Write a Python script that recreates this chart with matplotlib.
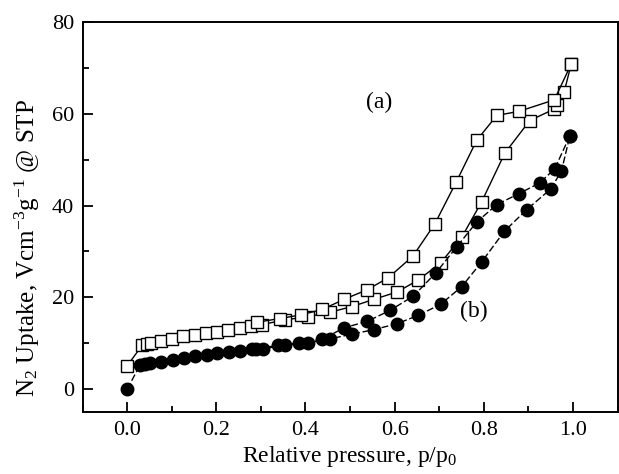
import numpy as np
from matplotlib import pyplot as plt
from matplotlib.ticker import MultipleLocator

plt.rcParams['font.family'] = ['Liberation Serif', 'DejaVu Serif']
plt.rcParams['mathtext.fontset'] = 'custom'
plt.rcParams['mathtext.rm'] = 'Liberation Serif'
plt.rcParams['mathtext.it'] = 'Liberation Serif:italic'

# sample (a): open squares
a_ads_p = [0.0, 0.034, 0.045, 0.054, 0.076, 0.101, 0.126, 0.153, 0.177, 0.202,
           0.227, 0.253, 0.277, 0.303, 0.353, 0.405, 0.456, 0.504, 0.554, 0.606,
           0.653, 0.703, 0.751, 0.795, 0.847, 0.903, 0.958, 0.964, 0.980, 0.996]
a_ads_v = [5.1, 9.6, 9.9, 10.0, 10.5, 11.0, 11.5, 11.8, 12.2, 12.5,
           12.8, 13.3, 13.8, 14.1, 15.1, 15.8, 16.8, 18.0, 19.6, 21.2,
           23.8, 27.5, 33.2, 40.8, 51.4, 58.5, 61.0, 61.9, 64.7, 70.8]
a_des_p = [0.996, 0.958, 0.879, 0.829, 0.784, 0.738, 0.690, 0.641, 0.586, 0.539,
           0.487, 0.438, 0.390, 0.342, 0.292]
a_des_v = [70.8, 63.0, 60.5, 59.6, 54.2, 45.1, 36.0, 29.0, 24.3, 21.7,
           19.6, 17.4, 16.2, 15.4, 14.6]

# sample (b): filled circles
b_ads_p = [0.0, 0.029, 0.041, 0.052, 0.076, 0.103, 0.128, 0.153, 0.179, 0.202,
           0.228, 0.253, 0.279, 0.305, 0.353, 0.405, 0.456, 0.504, 0.554, 0.606,
           0.653, 0.703, 0.750, 0.795, 0.846, 0.896, 0.950, 0.974, 0.993]
b_ads_v = [0.0, 5.3, 5.5, 5.7, 6.0, 6.4, 6.8, 7.2, 7.5, 7.8,
           8.2, 8.3, 8.7, 8.8, 9.6, 10.1, 11.0, 12.0, 13.0, 14.3,
           16.1, 18.5, 22.3, 27.7, 34.4, 39.1, 43.6, 47.5, 55.2]
b_des_p = [0.993, 0.959, 0.925, 0.879, 0.829, 0.784, 0.739, 0.693, 0.642, 0.590,
           0.539, 0.487, 0.438, 0.386, 0.339, 0.290]
b_des_v = [55.2, 48.0, 44.9, 42.6, 40.2, 36.4, 31.0, 25.4, 20.3, 17.2,
           14.8, 13.4, 10.9, 10.1, 9.6, 8.8]

fig = plt.figure(figsize=(6.19, 4.74), dpi=100)
ax = fig.add_axes([0.1333, 0.1302, 0.8645, 0.8240])

sq = dict(color='black', lw=1.0, marker='s', ms=8, mfc='white', mec='black', mew=1.0)
ci = dict(color='black', lw=1.0, marker='o', ms=9, mfc='black', mec='black')

ax.plot(a_ads_p, a_ads_v, **sq)
ax.plot(a_des_p, a_des_v, **sq)
ax.plot(b_ads_p, b_ads_v, dashes=(5, 2), **ci)
ax.plot(b_des_p, b_des_v, dashes=(5, 2), **ci)

ax.text(0.565, 62.4, '(a)', fontsize=17, ha='center', va='center')
ax.text(0.777, 17.0, '(b)', fontsize=17, ha='center', va='center')

ax.set_xlim(-0.1, 1.1)
ax.set_ylim(-5, 80)
ax.set_xticks(np.arange(0, 1.01, 0.2))
ax.set_yticks(np.arange(0, 81, 20))
ax.xaxis.set_minor_locator(MultipleLocator(0.1))
ax.yaxis.set_minor_locator(MultipleLocator(10))
ax.tick_params(which='both', direction='in', top=False, right=False,
               labelsize=16, width=1.3)
ax.tick_params(which='major', length=7, pad=6)
ax.tick_params(which='minor', length=4)
ax.xaxis.set_major_formatter(plt.FuncFormatter(lambda v, p: '%.1f' % v))
for s in ax.spines.values():
    s.set_linewidth(1.4)

ax.set_xlabel('Relative pressure, p/p$_0$', fontsize=17, labelpad=3)
ax.set_ylabel('N$_2$ Uptake, Vcm$^{-3}$g$^{-1}$ @ STP', fontsize=18)
ax.yaxis.set_label_coords(-0.075, 0.42)

fig.savefig('out.png', dpi=100)
